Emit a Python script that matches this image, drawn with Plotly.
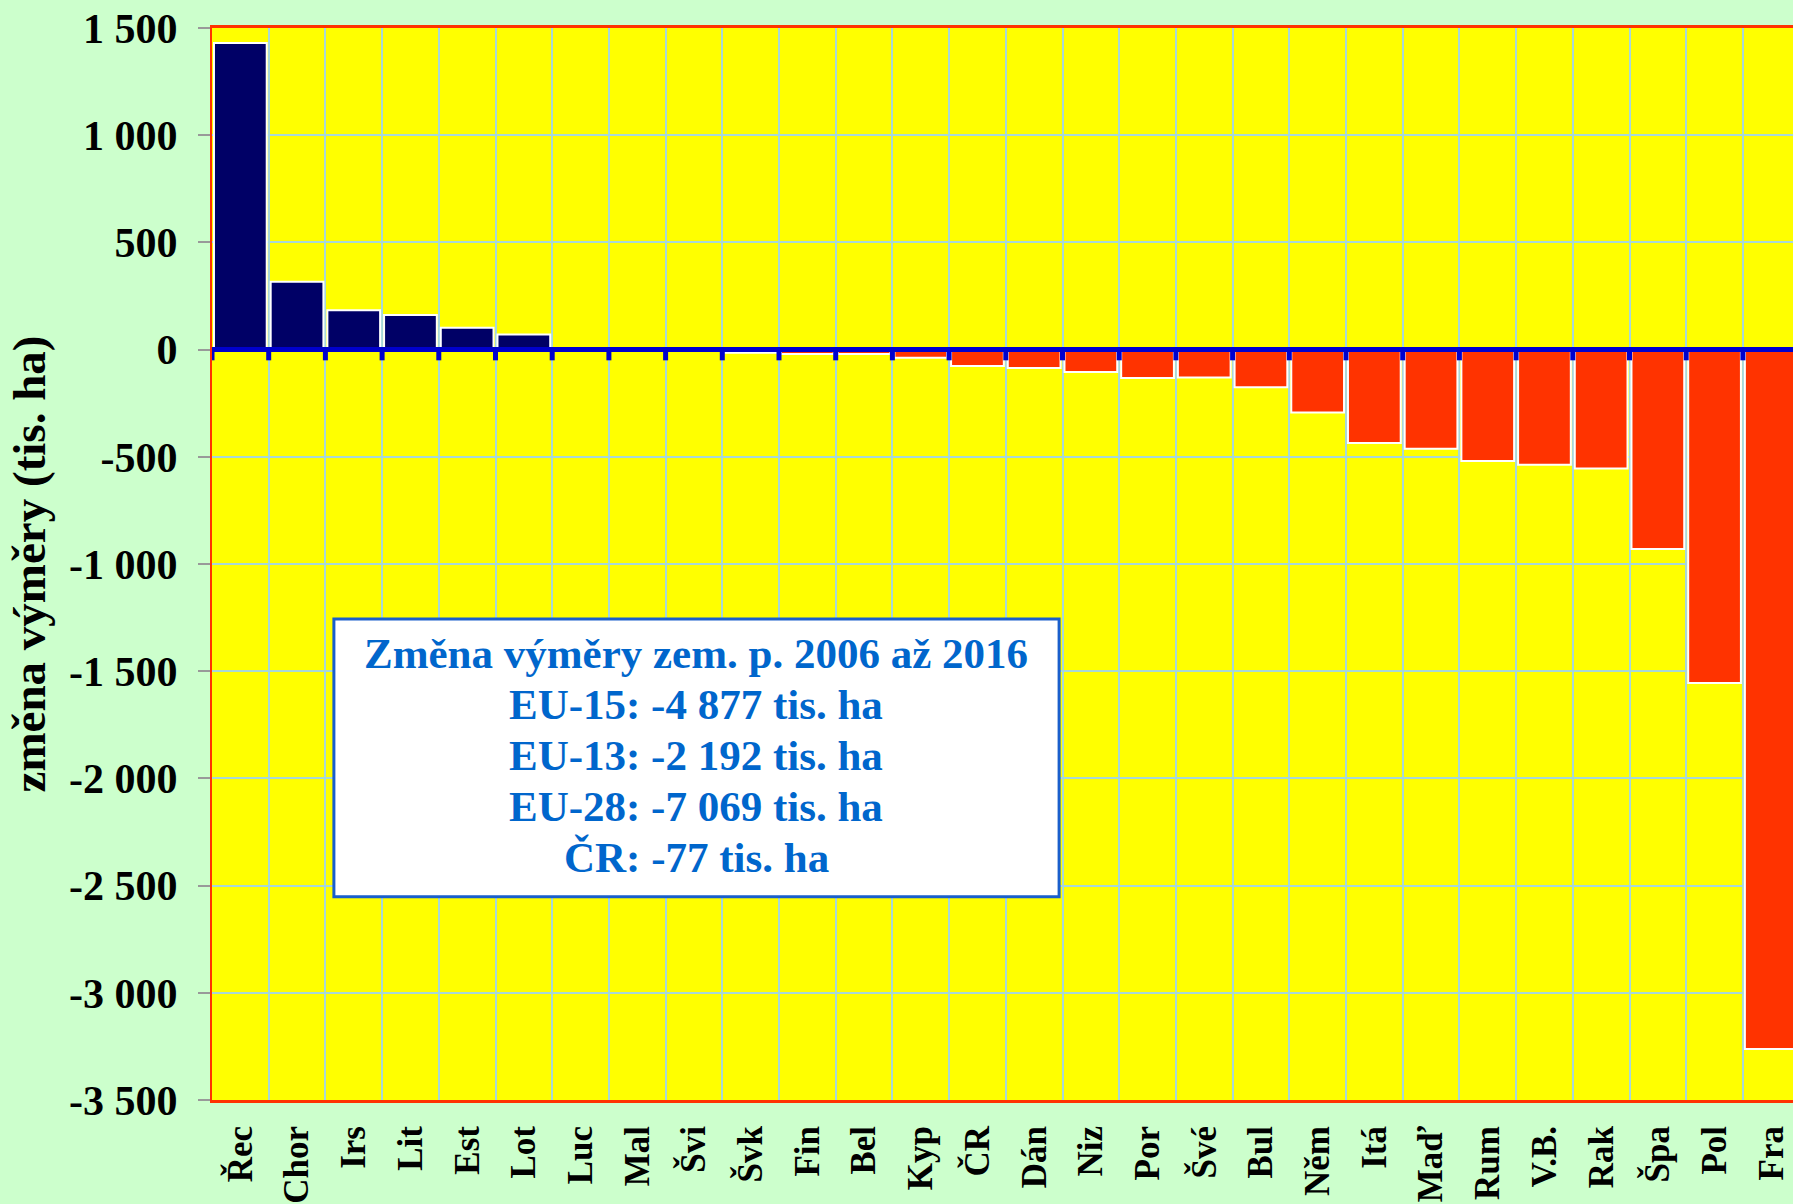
import plotly.graph_objects as go

# --- Data: change of agricultural area 2006-2016 (thousand ha) ---
countries = ["Řec", "Chor", "Irs", "Lit", "Est", "Lot", "Luc", "Mal", "Švi", "Švk",
             "Fin", "Bel", "Kyp", "ČR", "Dán", "Niz", "Por", "Švé", "Bul", "Něm",
             "Itá", "Maď", "Rum", "V.B.", "Rak", "Špa", "Pol", "Fra"]
change = [1430, 316, 184, 161, 102, 71, -1, -1, -3, -15,
          -21, -21, -38, -77, -86, -104, -132, -130, -176, -293,
          -436, -462, -520, -537, -555, -930, -1555, -3262]

y_ticks = [1500, 1000, 500, 0, -500, -1000, -1500, -2000, -2500, -3000, -3500]
y_tick_labels = ["1 500", "1 000", "500", "0", "-500", "-1 000", "-1 500",
                 "-2 000", "-2 500", "-3 000", "-3 500"]

box_lines = ["Změna výměry zem. p. 2006 až 2016",
             "EU-15: -4 877 tis. ha",
             "EU-13: -2 192 tis. ha",
             "EU-28: -7 069 tis. ha",
             "ČR: -77 tis. ha"]

# --- Styling ---
SERIF = "Liberation Serif"
POS_COLOR = "#000066"
NEG_COLOR = "#FF3300"
GRID = "#A8D8D8"
BORDER = "#FF3300"
ZERO_BLUE = "#0000CC"
TEXT_BLUE = "#0066CC"

W, H = 1793, 1204
M_L, M_T, M_B = 212, 28, 104
plot_h = H - M_T - M_B
cat_px = 56.7  # pixel width of one category in the original
x_max = -0.5 + (W - M_L) / cat_px

fig = go.Figure()

fig.add_trace(go.Bar(
    x=countries, y=change,
    marker=dict(color=[POS_COLOR if v >= 0 else NEG_COLOR for v in change],
                line=dict(color="white", width=2)),
    showlegend=False,
))

# thick blue zero line with tick marks at the category boundaries
fig.add_shape(type="line", xref="paper", yref="y", x0=0, x1=1, y0=0, y1=0,
              line=dict(color=ZERO_BLUE, width=5), layer="above")
for i in range(len(countries) + 1):
    fig.add_shape(type="line", xref="x", yref="y",
                  x0=i - 0.5, x1=i - 0.5, y0=0, y1=-50,
                  line=dict(color=ZERO_BLUE, width=5), layer="above")

# summary text box
bx0, bx1, by0, by1 = 0.0771, 0.5358, 0.1896, 0.4487
fig.add_shape(type="rect", xref="paper", yref="paper",
              x0=bx0, x1=bx1, y0=by0, y1=by1,
              fillcolor="white", line=dict(color="#1A5FCC", width=3), layer="above")
line_step = 51.0 / plot_h
mid = (len(box_lines) - 1) / 2
for i, txt in enumerate(box_lines):
    fig.add_annotation(
        xref="paper", yref="paper", x=(bx0 + bx1) / 2,
        y=(by0 + by1) / 2 + 0.002 - (i - mid) * line_step,
        xanchor="center", yanchor="middle", showarrow=False,
        text=txt,
        font=dict(family=SERIF, size=43, color=TEXT_BLUE, weight="bold"),
    )

fig.update_xaxes(
    type="category", range=[-0.5, x_max],
    tickson="boundaries", ticks="", tickangle=-90, ticklabelstandoff=9,
    tickfont=dict(family=SERIF, size=35, color="black", weight="bold"),
    showgrid=True, gridcolor=GRID, gridwidth=1.5,
    showline=True, linecolor=BORDER, linewidth=3, mirror=True,
    zeroline=False,
)
fig.update_yaxes(
    range=[-3500, 1500], tickvals=y_ticks, ticktext=y_tick_labels,
    ticks="outside", ticklen=12, tickwidth=2, tickcolor="#999999",
    ticklabelstandoff=12,
    tickfont=dict(family=SERIF, size=42, color="black", weight="bold"),
    showgrid=True, gridcolor=GRID, gridwidth=1.5,
    showline=True, linecolor=BORDER, linewidth=2,
    zeroline=False,
    title=dict(text="změna výměry (tis. ha)", standoff=9,
               font=dict(family=SERIF, size=47, color="black", weight="bold")),
)

fig.update_layout(
    width=W, height=H,
    margin=dict(l=M_L, r=0, t=M_T, b=M_B, autoexpand=False),
    paper_bgcolor="#CCFFCC", plot_bgcolor="#FFFF00",
    bargap=0.07,
)

fig.write_html("out.html", config={"displayModeBar": False},
               post_script="document.body.style.margin='0';")
